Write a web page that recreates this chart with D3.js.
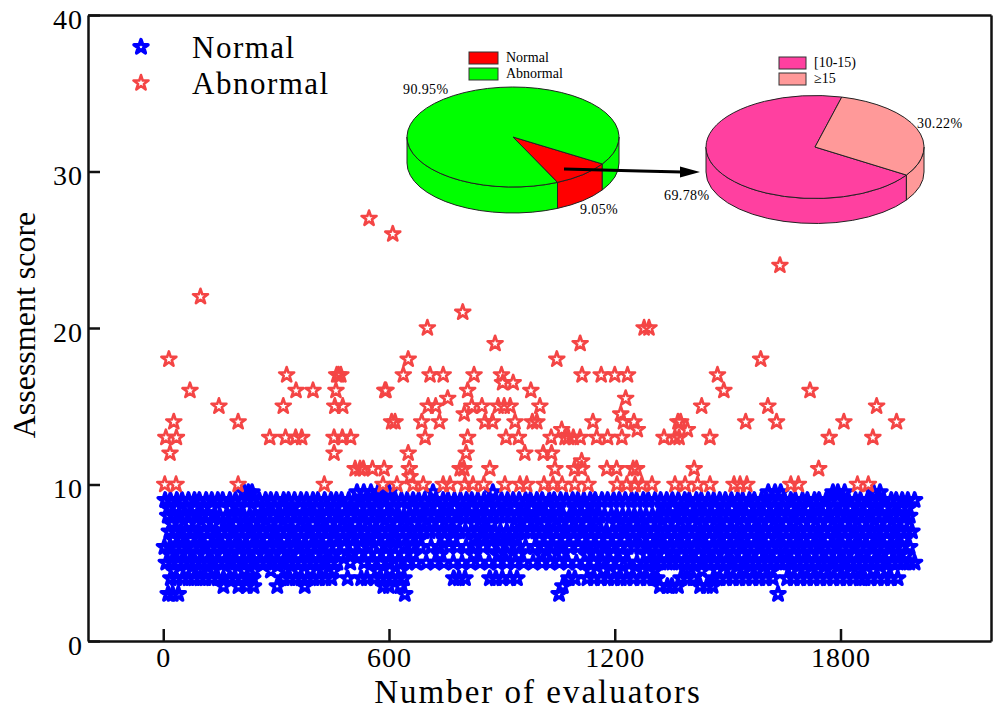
<!DOCTYPE html>
<html>
<head>
<meta charset="utf-8">
<script src="https://cdn.jsdelivr.net/npm/d3@7"></script>
<style>
  body { margin: 0; background: #fff; }
  text { font-family: "Liberation Serif", serif; fill: #000; }
  .axis path, .axis line { stroke: #111; stroke-width: 2.5; }
  .axis text { font-family: "Liberation Serif", serif; font-size: 28px; letter-spacing: 1px; }
</style>
</head>
<body>
<svg width="998" height="711"></svg>
<script>
var xTicks = [0, 600, 1200, 1800],
    yTicks = [0, 10, 20, 30, 40];

// scores of the normal group, one evaluator list per score
var normalScores = [9.5, 9, 8.5, 8, 7.5, 7, 6.5, 6, 5.5, 5, 4.5, 4, 3.5, 3];
var normalEvaluators = [
  [215,226,236,515,533,552,571,600,717,876,1608,1626,1641,1780,1793,1811,1888,1905],
  [5,19,36,50,67,83,96,114,129,145,158,177,192,207,226,238,255,272,286,301,320,333,349,366,381,398,411,429,446,460,474,493,508,523,539,555,570,584,603,617,633,648,664,679,695,711,725,744,757,774,790,806,820,836,853,866,884,899,915,930,946,963,976,993,1007,1026,1039,1056,1071,1088,1102,1118,1135,1148,1166,1181,1197,1212,1228,1245,1258,1276,1289,1307,1322,1338,1353,1369,1386,1398,1417,1430,1448,1463,1479,1494,1510,1527,1540,1558,1571,1590,1603,1620,1635,1651,1668,1680,1699,1712,1731,1743,1762,1776,1792,1809,1821,1840,1853,1872,1884,1904,1915,1935,1948,1964,1979,1997],
  [14,36,61,84,108,128,178,199,251,274,296,319,341,362,386,407,431,452,476,497,521,543,566,588,612,661,684,706,729,751,774,797,819,842,866,888,911,934,956,979,1001,1024,1046,1099,1121,1144,1332,1354,1377,1399,1422,1444,1467,1489,1512,1534,1557,1579,1602,1624,1647,1669,1692,1714,1737,1759,1782,1804,1827,1849,1872,1894,1917,1939,1962,1980],
  [12,27,41,59,72,90,104,119,137,150,168,183,197,214,230,243,262,275,293,308,322,340,354,372,386,403,417,433,451,465,482,498,516,530,547,562,577,594,609,626,640,657,672,688,704,719,736,750,768,783,798,814,829,846,860,878,892,909,923,941,955,971,986,1001,1018,1032,1050,1063,1081,1095,1111,1127,1142,1159,1173,1191,1205,1221,1237,1252,1268,1283,1300,1315,1331,1346,1362,1378,1393,1409,1424,1441,1455,1473,1487,1503,1519,1534,1550,1566,1581,1597,1613,1628,1644,1660,1675,1691,1706,1723,1737,1754,1769,1785,1801,1815,1833,1847,1864,1878,1895,1910,1926,1941,1957,1972,1984],
  [22,44,68,89,113,135,171,193,217,238,262,284,307,329,352,375,397,420,442,465,487,510,532,555,577,600,622,645,667,690,712,735,757,780,827,850,872,945,967,990,1012,1035,1057,1080,1102,1125,1147,1205,1227,1250,1272,1295,1317,1340,1362,1385,1407,1430,1452,1475,1497,1520,1542,1565,1587,1610,1632,1655,1677,1700,1722,1745,1767,1790,1812,1835,1857,1880,1902,1925,1947,1970],
  [16,31,47,61,78,93,108,125,139,156,171,186,203,217,234,249,264,281,296,311,327,343,358,375,389,406,421,436,454,469,487,500,519,535,551,566,581,598,612,629,645,661,676,692,708,723,741,754,772,787,803,819,833,851,864,882,896,913,927,945,959,975,991,1006,1022,1036,1054,1068,1085,1099,1115,1132,1146,1164,1178,1194,1210,1225,1241,1256,1273,1287,1304,1319,1335,1350,1367,1382,1397,1413,1428,1445,1459,1476,1491,1507,1523,1538,1554,1570,1585,1601,1616,1632,1648,1664,1679,1695,1710,1727,1741,1758,1773,1789,1805,1819,1837,1851,1868,1882,1899,1914,1930,1945,1961,1976,1990],
  [26,48,73,95,118,141,163,186,208,231,253,276,298,321,343,366,388,411,433,456,478,501,523,546,568,591,613,636,658,681,748,770,826,849,871,894,917,940,1000,1022,1045,1068,1090,1113,1136,1158,1181,1204,1226,1249,1271,1294,1316,1339,1361,1384,1406,1429,1451,1474,1496,1519,1541,1564,1586,1609,1631,1654,1676,1699,1721,1744,1766,1789,1811,1834,1856,1879,1901,1924,1946,1969],
  [3,18,33,50,64,80,96,110,127,142,158,174,189,205,220,236,252,267,283,299,314,330,345,362,377,393,409,424,441,459,481,503,527,545,573,596,612,640,662,684,712,733,760,781,805,828,850,873,894,918,942,963,988,1010,1034,1058,1079,1103,1126,1147,1172,1193,1216,1234,1252,1268,1285,1301,1316,1333,1348,1364,1380,1396,1411,1428,1443,1460,1475,1491,1507,1522,1539,1554,1570,1586,1601,1618,1633,1649,1665,1680,1696,1712,1727,1744,1758,1775,1790,1806,1822,1837,1853,1869,1884,1901,1916,1932,1948,1963,1984],
  [20,42,67,89,112,134,157,179,202,224,247,269,292,314,337,359,382,404,427,449,472,497,520,545,568,592,616,640,665,735,825,890,915,945,1005,1032,1058,1125,1148,1172,1196,1222,1285,1308,1331,1354,1377,1400,1423,1446,1469,1492,1515,1538,1561,1584,1607,1630,1653,1676,1699,1722,1745,1768,1791,1814,1837,1860,1883,1906,1929,1952,1975],
  [8,23,39,56,70,85,101,117,131,148,163,179,195,210,227,241,258,273,289,304,319,336,350,367,383,398,414,429,446,463,497,534,555,579,601,628,650,672,699,722,746,771,794,817,842,866,889,913,935,958,983,1007,1028,1053,1076,1098,1121,1144,1168,1189,1211,1236,1259,1276,1292,1307,1322,1339,1353,1370,1385,1401,1416,1433,1447,1465,1480,1496,1512,1527,1544,1559,1575,1591,1606,1623,1638,1654,1670,1685,1701,1717,1732,1749,1763,1780,1795,1811,1827,1842,1858,1874,1889,1906,1921,1937,1953,1968,1983,1997],
  [28,62,97,131,182,214,243,286,322,358,391,428,453,568,602,631,1135,1169,1204,1238,1272,1306,1392,1431,1473,1510,1546,1581,1617,1672,1708,1743,1779,1814,1850,1886,1921],
  [20,34,52,67,82,98,112,129,145,160,177,191,208,224,238,320,336,352,367,383,399,414,431,447,490,526,541,562,578,593,609,625,640,772,786,802,868,884,901,922,940,1078,1094,1127,1145,1163,1182,1198,1216,1231,1250,1268,1285,1303,1312,1376,1392,1409,1462,1479,1496,1514,1531,1548,1566,1584,1601,1620,1658,1676,1693,1711,1728,1746,1763,1781,1799,1816,1834,1851,1864,1880,1899,1916,1934,1952],
  [160,200,222,240,303,376,585,600,630,1062,1320,1340,1352,1368,1427,1445,1460],
  [13,25,40,642,1052,1634]
];

// abnormal group, same layout
var abnormalScores = [27, 26, 24, 22, 21, 20, 19, 18, 17, 16.5, 16, 15.5, 15, 14.5, 14, 13.5, 13, 12, 11.5, 11, 10.5, 10];
var abnormalEvaluators = [
  [547],
  [610],
  [1639],
  [99],
  [796],
  [702,1278,1291],
  [882,1108],
  [15,651,1046,1588],
  [328,461,466,472,638,709,744,826,899,1113,1164,1200,1234,1473],
  [902,930],
  [71,353,398,459,589,592,809,977,1490,1719],
  [756,1229],
  [148,319,456,477,704,724,820,847,890,906,922,1001,1431,1607,1896],
  [800,1216],
  [28,199,607,616,687,734,855,875,935,981,993,1142,1223,1251,1368,1375,1548,1630,1809,1949],
  [1059,1260,1393],
  [7,35,283,325,352,368,454,476,498,696,809,911,944,1031,1068,1077,1090,1108,1152,1181,1219,1331,1360,1371,1453,1770,1886],
  [18,454,651,805,961,1010,1032],
  [1112],
  [510,523,532,556,587,654,789,799,868,1041,1093,1112,1179,1205,1249,1258,1411,1742],
  [656],
  [4,34,199,428,584,621,664,691,744,762,802,823,852,908,948,966,1012,1036,1060,1094,1129,1206,1232,1254,1272,1299,1360,1387,1420,1453,1517,1533,1551,1668,1688,1845,1874]
];

var legendNames = ["Normal", "Abnormal"];

// the two inset pies
var pieLeftValues = [9.05, 90.95],
    pieLeftNames = ["Normal", "Abnormal"],
    pieLeftLabels = ["9.05%", "90.95%"],
    pieRightValues = [69.78, 30.22],
    pieRightNames = ["[10-15)", "\u226515"],
    pieRightLabels = ["69.78%", "30.22%"];

var svg = d3.select("svg"),
    margin = {top: 15, right: 7, bottom: 70, left: 88},
    width = 998 - margin.left - margin.right,
    height = 711 - margin.top - margin.bottom;

var x = d3.scaleLinear().domain([-200, 2200]).range([0, width]);
var y = d3.scaleLinear().domain([0, 40]).range([height, 0]);

var g = svg.append("g")
    .attr("transform", "translate(" + margin.left + "," + margin.top + ")");

var blueStar = d3.symbol().type(d3.symbolStar).size(60)(),
    redStar = d3.symbol().type(d3.symbolStar).size(70)();

function drawStars(scores, evaluators, shape, color, sw, cls) {
  var pts = [];
  scores.forEach(function(s, i) {
    evaluators[i].forEach(function(e) { pts.push({x: e, y: s}); });
  });
  g.append("g").attr("class", cls)
    .selectAll("path").data(pts).enter().append("path")
      .attr("d", shape)
      .attr("transform", function(d) { return "translate(" + x(d.x) + "," + y(d.y) + ")"; })
      .attr("fill", "none")
      .attr("stroke", color)
      .attr("stroke-width", sw)
      .attr("stroke-linejoin", "round");
}

drawStars(normalScores, normalEvaluators, blueStar, "#0000ff", 3.6, "normal");
drawStars(abnormalScores, abnormalEvaluators, redStar, "#f44545", 2.6, "abnormal");

// axes, ticks point inwards
var xAxis = g.append("g").attr("class", "axis")
    .attr("transform", "translate(0," + height + ")")
    .call(d3.axisBottom(x).tickValues(xTicks).tickSizeInner(-12).tickSizeOuter(0).tickPadding(9).tickFormat(d3.format("d")));
xAxis.selectAll("text").attr("dy", "0.59em");

var yAxis = g.append("g").attr("class", "axis")
    .call(d3.axisLeft(y).tickValues(yTicks).tickSizeInner(-12).tickSizeOuter(0).tickPadding(5));
yAxis.selectAll("text").attr("dy", "0.47em");

g.append("g").attr("class", "axis").call(d3.axisTop(x).tickValues([]).tickSizeOuter(0));
g.append("g").attr("class", "axis").attr("transform", "translate(" + width + ",0)")
    .call(d3.axisRight(y).tickValues([]).tickSizeOuter(0));
svg.selectAll(".domain").attr("fill", "none");

svg.append("text")
    .attr("x", 538).attr("y", 703)
    .attr("text-anchor", "middle")
    .style("font-size", "33px").style("letter-spacing", "2px")
    .text("Number of evaluators");

svg.append("text")
    .attr("transform", "translate(35,325) rotate(-90)")
    .attr("text-anchor", "middle")
    .style("font-size", "32px")
    .text("Assessment score");

// legend of the scatter
legendNames.forEach(function(name, i) {
  var ly = 47 + i * 36;
  svg.append("path")
      .attr("d", i ? redStar : blueStar)
      .attr("transform", "translate(141," + ly + ")")
      .attr("fill", "none")
      .attr("stroke", i ? "#f44545" : "#0000ff")
      .attr("stroke-width", i ? 2.6 : 3.6)
      .attr("stroke-linejoin", "round");
  svg.append("text")
      .attr("x", 192).attr("y", ly + 11)
      .style("font-size", "31px").style("letter-spacing", "1.5px")
      .text(name);
});

function drawPie(o) {
  var slices = d3.pie().sort(null)
      .startAngle(o.start).endAngle(o.start + 2 * Math.PI)(o.values);
  var arc = d3.arc().innerRadius(0).outerRadius(o.rx);
  var p = svg.append("g");

  function pt(a, dy) {
    return [o.cx + o.rx * Math.sin(a), o.cy - o.ry * Math.cos(a) + dy];
  }

  // side wall: only the front half of the rim shows
  var front = [Math.PI / 2, 3 * Math.PI / 2];
  slices.forEach(function(s, i) {
    [0, 2 * Math.PI].forEach(function(shift) {
      var a0 = Math.max(s.startAngle - shift, front[0]),
          a1 = Math.min(s.endAngle - shift, front[1]);
      if (a1 <= a0) return;
      var t = pt(a0, 0), u = pt(a1, 0), v = pt(a1, o.depth), w = pt(a0, o.depth);
      p.append("path")
          .attr("d", "M" + t + "A" + o.rx + "," + o.ry + " 0 0 1 " + u +
                     "L" + v + "A" + o.rx + "," + o.ry + " 0 0 0 " + w + "Z")
          .attr("fill", o.colors[i])
          .attr("stroke", "#222")
          .attr("stroke-width", 1);
    });
  });

  p.append("g")
      .attr("transform", "translate(" + o.cx + "," + o.cy + ") scale(1," + (o.ry / o.rx) + ")")
    .selectAll("path").data(slices).enter().append("path")
      .attr("d", arc)
      .attr("fill", function(d, i) { return o.colors[i]; })
      .attr("stroke", "#222")
      .attr("stroke-width", 1)
      .attr("vector-effect", "non-scaling-stroke");

  o.names.forEach(function(n, i) {
    var top = o.legendY + i * o.legendStep;
    svg.append("rect")
        .attr("x", o.legendX).attr("y", top)
        .attr("width", o.legendW).attr("height", 12)
        .attr("fill", o.colors[i])
        .attr("stroke", "#333").attr("stroke-width", 1);
    svg.append("text")
        .attr("x", o.legendX + o.legendW + 8).attr("y", top + 10)
        .style("font-size", "14px")
        .text(n);
  });

  o.labels.forEach(function(l, i) {
    svg.append("text")
        .attr("x", o.labelPos[i][0]).attr("y", o.labelPos[i][1])
        .style("font-size", "14px").style("letter-spacing", "0.4px")
        .text(l);
  });
}

drawPie({
  values: pieLeftValues, names: pieLeftNames, labels: pieLeftLabels,
  colors: ["#ff0000", "#00ff00"],
  cx: 513, cy: 137, rx: 106, ry: 50, depth: 26,
  start: 122.6 * Math.PI / 180,
  legendX: 469, legendY: 52, legendW: 29, legendStep: 16,
  labelPos: [[580, 214], [403, 94]]
});

drawPie({
  values: pieRightValues, names: pieRightNames, labels: pieRightLabels,
  colors: ["#ff40a0", "#ff9999"],
  cx: 815, cy: 147, rx: 109, ry: 51.5, depth: 25,
  start: 123 * Math.PI / 180,
  legendX: 779, legendY: 57, legendW: 27, legendStep: 16,
  labelPos: [[664, 200], [917, 128]]
});

// arrow between the pies
svg.append("path")
    .attr("d", "M564,169L640,171L682,172")
    .attr("fill", "none").attr("stroke", "#000").attr("stroke-width", 3);
svg.append("path")
    .attr("d", "M680,166.5L700,172L680,177.5Z")
    .attr("fill", "#000");
</script>
</body>
</html>
